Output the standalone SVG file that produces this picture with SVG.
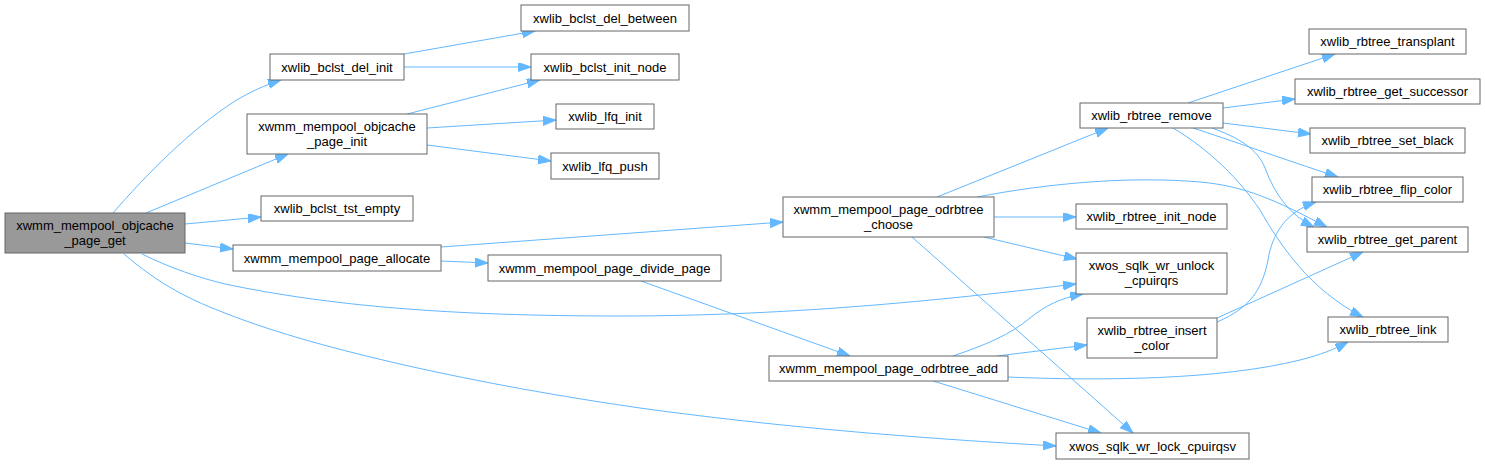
<svg xmlns="http://www.w3.org/2000/svg" width="1485" height="464" viewBox="0 0 1485 464">
<style>
.n rect{fill:#ffffff;stroke:#666666;stroke-width:1}
.n.root rect{fill:#999999}
.n text{font-family:"Liberation Sans",Arial,sans-serif;font-size:13px;fill:#000000;text-anchor:middle}
.e path{fill:none;stroke:#63b8ff;stroke-width:1;marker-end:url(#arr)}
</style>
<defs>
<marker id="arr" markerWidth="15" markerHeight="11" refX="13" refY="4.5" orient="auto" markerUnits="userSpaceOnUse">
<path d="M0,0 L13,4.5 L0,9 Z" fill="#63b8ff" stroke="#63b8ff" stroke-width="1"/>
</marker>
</defs>
<rect width="1485" height="464" fill="#ffffff"/>
<g id="edges" class="e">
<path d="M113,213 C145,176 190,130 235,101 C250,92 265,85 281,80"/>
<path d="M146,213 L288,154"/>
<path d="M185,224 L261,217"/>
<path d="M185,243 L233,249"/>
<path d="M142,254 C170,268 200,278 225,284 C330,306 450,316 620,316 C800,316 960,298 1076,284"/>
<path d="M124,254 C160,285 190,300 230,315 C320,350 480,385 640,408 C800,430 950,440 1056,446"/>
<path d="M404,54 L535,31"/>
<path d="M404,67 L531,67"/>
<path d="M407,114 L540,80"/>
<path d="M427,128 L556,120"/>
<path d="M427,145 L551,161"/>
<path d="M441,247 L783,222"/>
<path d="M441,261 L488,263"/>
<path d="M641,281 L850,356"/>
<path d="M937,197 L1108,128"/>
<path d="M977,197 C1050,183 1130,176 1200,182 C1245,186 1275,200 1327,227"/>
<path d="M994,217 L1076,217"/>
<path d="M984,237 L1077,259"/>
<path d="M912,237 L1133,433"/>
<path d="M1188,103 L1335,54"/>
<path d="M1223,108 L1295,99"/>
<path d="M1223,123 L1311,134"/>
<path d="M1193,128 C1230,140 1280,158 1338,177"/>
<path d="M1212,128 C1240,138 1258,150 1265,168 C1275,195 1290,215 1314,227"/>
<path d="M1173,128 C1210,150 1240,180 1260,210 C1280,245 1310,290 1363,317"/>
<path d="M1217,322 C1250,308 1262,290 1268,260 C1272,235 1285,212 1316,202"/>
<path d="M1217,318 L1363,252"/>
<path d="M953,356 C985,345 1010,335 1030,318 C1045,306 1060,298 1083,294"/>
<path d="M997,356 L1087,345"/>
<path d="M1008,377 C1100,381 1220,380 1300,360 C1320,355 1335,349 1348,342"/>
<path d="M933,381 L1101,433"/>
</g>
<g id="n1" class="n root"><rect x="5" y="213" width="180" height="40"/><text x="95" y="230">xwmm_mempool_objcache</text><text x="95" y="245">_page_get</text></g>
<g id="n2" class="n"><rect x="270" y="54" width="134" height="26"/><text x="337" y="71.5">xwlib_bclst_del_init</text></g>
<g id="n3" class="n"><rect x="247" y="114" width="180" height="40"/><text x="337" y="131">xwmm_mempool_objcache</text><text x="337" y="146">_page_init</text></g>
<g id="n4" class="n"><rect x="261" y="196" width="152" height="25"/><text x="337" y="213">xwlib_bclst_tst_empty</text></g>
<g id="n5" class="n"><rect x="233" y="245" width="208" height="26"/><text x="337" y="262.5">xwmm_mempool_page_allocate</text></g>
<g id="n6" class="n"><rect x="521" y="5" width="168" height="26"/><text x="605" y="22.5">xwlib_bclst_del_between</text></g>
<g id="n7" class="n"><rect x="531" y="54" width="148" height="26"/><text x="605" y="71.5">xwlib_bclst_init_node</text></g>
<g id="n8" class="n"><rect x="556" y="104" width="98" height="25"/><text x="605" y="121">xwlib_lfq_init</text></g>
<g id="n9" class="n"><rect x="551" y="153" width="108" height="26"/><text x="605" y="170.5">xwlib_lfq_push</text></g>
<g id="n10" class="n"><rect x="783" y="197" width="211" height="40"/><text x="888.5" y="214">xwmm_mempool_page_odrbtree</text><text x="888.5" y="229">_choose</text></g>
<g id="n11" class="n"><rect x="488" y="255" width="233" height="26"/><text x="604.5" y="272.5">xwmm_mempool_page_divide_page</text></g>
<g id="n12" class="n"><rect x="1080" y="103" width="143" height="25"/><text x="1151.5" y="120">xwlib_rbtree_remove</text></g>
<g id="n13" class="n"><rect x="1309" y="29" width="157" height="25"/><text x="1387.5" y="46">xwlib_rbtree_transplant</text></g>
<g id="n14" class="n"><rect x="1295" y="79" width="185" height="25"/><text x="1387.5" y="96">xwlib_rbtree_get_successor</text></g>
<g id="n15" class="n"><rect x="1310" y="128" width="155" height="25"/><text x="1387.5" y="145">xwlib_rbtree_set_black</text></g>
<g id="n16" class="n"><rect x="1312" y="177" width="151" height="25"/><text x="1387.5" y="194">xwlib_rbtree_flip_color</text></g>
<g id="n17" class="n"><rect x="1307" y="227" width="161" height="25"/><text x="1387.5" y="244">xwlib_rbtree_get_parent</text></g>
<g id="n18" class="n"><rect x="1076" y="204" width="151" height="25"/><text x="1151.5" y="221">xwlib_rbtree_init_node</text></g>
<g id="n19" class="n"><rect x="1076" y="253" width="151" height="41"/><text x="1151.5" y="270">xwos_sqlk_wr_unlock</text><text x="1151.5" y="285">_cpuirqrs</text></g>
<g id="n20" class="n"><rect x="1087" y="318" width="130" height="40"/><text x="1152" y="335">xwlib_rbtree_insert</text><text x="1152" y="350">_color</text></g>
<g id="n21" class="n"><rect x="1328" y="317" width="120" height="25"/><text x="1388" y="334">xwlib_rbtree_link</text></g>
<g id="n22" class="n"><rect x="769" y="356" width="239" height="25"/><text x="888.5" y="373">xwmm_mempool_page_odrbtree_add</text></g>
<g id="n23" class="n"><rect x="1056" y="433" width="193" height="26"/><text x="1152.5" y="450.5">xwos_sqlk_wr_lock_cpuirqsv</text></g>
</svg>
